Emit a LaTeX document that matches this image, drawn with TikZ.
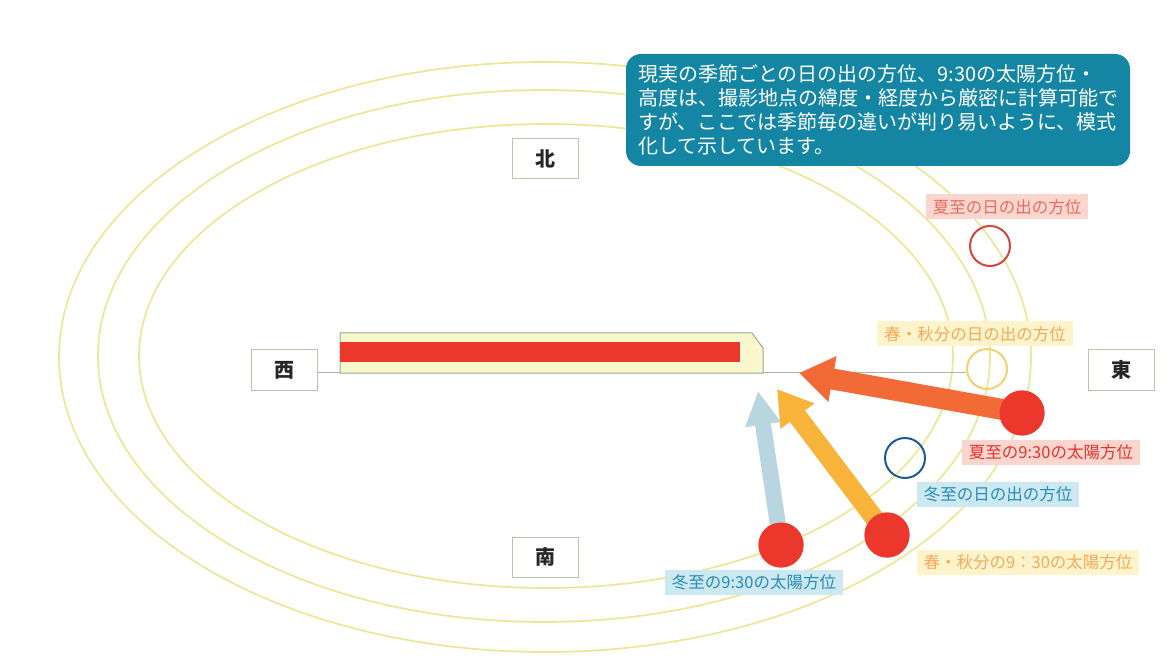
\documentclass[tikz,border=0pt]{standalone}
\usepackage{fontspec}
\newfontfamily\jp{Noto Sans CJK JP}
\usetikzlibrary{arrows.meta}
\definecolor{ell}{RGB}{236,230,150}
\definecolor{teal}{RGB}{20,134,164}
\definecolor{sunred}{RGB}{236,56,44}
\definecolor{bldfill}{RGB}{251,247,204}
\definecolor{bldline}{RGB}{150,168,150}
\definecolor{arrorange}{RGB}{242,106,54}
\definecolor{arryellow}{RGB}{248,180,58}
\definecolor{arrblue}{RGB}{185,213,223}
\definecolor{boxline}{RGB}{184,198,168}
\definecolor{pinkbg}{RGB}{250,214,206}
\definecolor{pinktx}{RGB}{232,108,98}
\definecolor{redtx}{RGB}{228,52,46}
\definecolor{yelbg}{RGB}{253,244,204}
\definecolor{yeltx}{RGB}{244,170,90}
\definecolor{bluebg}{RGB}{204,232,240}
\definecolor{bluetx}{RGB}{40,140,185}
\definecolor{sumring}{RGB}{214,70,60}
\definecolor{sprring}{RGB}{240,210,110}
\definecolor{winring}{RGB}{30,90,150}
\begin{document}
\begin{tikzpicture}[x=1pt,y=-1pt,
  orbit/.style={draw=ell,line width=1.7pt},
  compass/.style={draw=boxline,line width=1pt,fill=white,minimum width=66pt,minimum height=40pt,inner sep=0pt,font=\jp\bfseries\fontsize{20}{20}\selectfont,text=black!85},
  ring/.style={circle,draw,line width=2pt,minimum size=40pt,inner sep=0pt},
  sun/.style={circle,fill=sunred,minimum size=45pt,inner sep=0pt},
  lbl/.style={inner xsep=7pt,inner ysep=0pt,minimum height=25pt,font=\jp\fontsize{16.5}{16.5}\selectfont},
  fatarrow/.style={line width=#1, -{Triangle[length=34pt,width=2.1*#1]}}
]
\useasboundingbox (0,0) rectangle (1173,660);
% orbits
\draw[orbit] (545,357) ellipse [x radius=486, y radius=295];
\draw[orbit] (544,356) ellipse [x radius=446, y radius=266];
\draw[orbit] (546,356) ellipse [x radius=407, y radius=232];
% compass boxes
\node[compass] (N) at (545,159) {北};
\node[compass] (S) at (545,557) {南};
\node[compass] (W) at (284,370) {西};
\node[compass] (E) at (1121,370) {東};
% sunrise rings
\node[ring,draw=sumring] (sumrise) at (990,246) {};
\node[ring,draw=sprring] (sprrise) at (987,369) {};
\node[ring,draw=winring] (winrise) at (905,458) {};
% axis line
\draw[bldline!80,line width=0.8pt] (W.east |- 0,372) -- (sprrise.west |- 0,372);
% building
\path[fill=bldfill,draw=bldline,line width=1pt] (340,333) -- (752,333) -- (763,348) -- (763,373) -- (340,373) -- cycle;
\fill[sunred] (340,342) rectangle (740,362);
% 9:30 suns
\node[sun] (sum930) at (1022,413) {};
\node[sun] (spr930) at (887,535) {};
\node[sun] (win930) at (781,545) {};
\coordinate (tipB) at (758,391);
\coordinate (tipY) at (777,389);
\coordinate (tipO) at (799,373);
\draw[fatarrow=16pt,arrblue] (win930.center) -- (tipB);
\draw[fatarrow=19pt,arryellow] (spr930.center) -- (tipY);
\draw[fatarrow=21pt,arrorange] (sum930.center) -- (tipO);
\node[sun] at (sum930) {};
\node[sun] at (spr930) {};
\node[sun] at (win930) {};
% labels
\node[lbl,fill=pinkbg,text=pinktx] (l1) at (1007,207) {夏至の日の出の方位};
\node[lbl,fill=yelbg,text=yeltx] (l2) at (975,334) {春・秋分の日の出の方位};
\node[lbl,fill=pinkbg,text=redtx] (l3) at (1051,452) {夏至の9:30の太陽方位};
\node[lbl,fill=bluebg,text=bluetx] (l4) at (998,494) {冬至の日の出の方位};
\node[lbl,fill=yelbg,text=yeltx] (l5) at (1028,562) {春・秋分の9：30の太陽方位};
\node[lbl,fill=bluebg,text=bluetx] (l6) at (754,582) {冬至の9:30の太陽方位};
% callout
\node[fill=teal,rounded corners=15pt,minimum width=504pt,minimum height=112pt,text width=480pt,align=left,inner sep=0pt,text=white,font=\jp\fontsize{20}{24}\selectfont] (note) at (878,110)
 {現実の季節ごとの日の出の方位、9:30の太陽方位・\\高度は、撮影地点の緯度・経度から厳密に計算可能で\\すが、ここでは季節毎の違いが判り易いように、模式\\化して示しています。};
\end{tikzpicture}
\end{document}
